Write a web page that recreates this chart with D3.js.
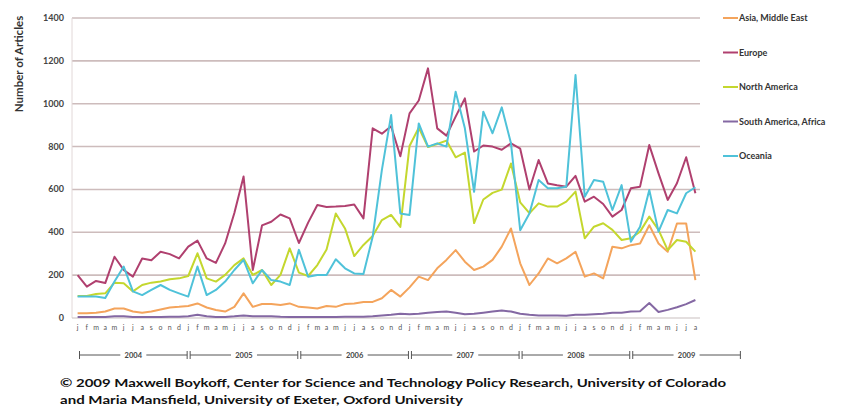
<!DOCTYPE html>
<html>
<head>
<meta charset="utf-8">
<script src="https://cdn.jsdelivr.net/npm/d3@7"></script>
<style>
  body { margin: 0; background: #fff; }
  svg { font-family: Lato, "Open Sans", sans-serif; }
</style>
</head>
<body>
<svg id="chart" width="847" height="409"></svg>
<script>
// month letters per year, Jan 2004 .. Aug 2009
const MONTH_LETTERS = ["j","f","m","a","m","j","j","a","s","o","n","d"];
const YEARS = [2004, 2005, 2006, 2007, 2008, 2009];
const N_MONTHS = 68;
const months = d3.range(N_MONTHS);

const asia = [22,22,25,30,44,44,30,25,30,40, 49,52,56,68,49,37,30,52,115,52,
  65,65,61,68,52,49,44,56,52,65, 68,75,75,92,131,100,143,193,177,232,
  271,317,263,224,240,271,333,418,255,154, 208,278,255,278,309,193,208,185,333,325,
  340,348,433,348,309,441,441,177];
const europe = [200,146,173,163,286,224,193,278,270,309, 298,278,333,361,278,257,348,490,660,224,
  432,449,483,465,350,445,527,518,520,523, 530,465,885,860,895,755,955,1015,1165,885,
  851,940,1025,777,805,800,785,815,790,600, 737,628,620,613,663,543,566,532,473,504,
  605,613,807,675,551,629,750,582];
const northAmerica = [103,103,112,115,165,162,124,154,165,170, 181,185,196,302,185,170,201,247,278,201,
  224,154,201,325,212,196,247,320,488,418, 289,341,383,457,481,425,803,888,798,812,
  828,750,772,443,553,584,599,721,540,489, 535,520,520,543,590,372,426,442,411,364,
  372,403,473,411,317,364,356,310];
const southAmerica = [5,5,5,5,8,8,5,5,5,5, 6,6,8,15,8,5,5,8,12,8,
  8,8,6,5,5,5,5,5,5,6, 6,6,8,12,15,20,18,20,25,28,
  30,25,18,20,25,30,35,30,20,15, 12,12,12,10,15,15,18,20,25,25,
  30,32,70,28,38,50,65,84];
const oceania = [100,100,100,93,170,240,124,107,131,154, 131,115,100,240,107,131,170,224,271,162,
  224,177,170,154,318,193,201,201,274,232, 208,205,379,691,947,488,481,908,800,815,
  800,1056,885,589,963,862,983,815,410,488, 644,605,605,613,1134,566,644,636,504,620,
  356,426,597,403,504,488,582,610];

const Y_TICKS = [0, 200, 400, 600, 800, 1000, 1200, 1400];

const series = [
  { name: "Asia, Middle East", values: asia, color: "#f4a45c" },
  { name: "Europe", values: europe, color: "#b0406f" },
  { name: "North America", values: northAmerica, color: "#c4d72e" },
  { name: "South America, Africa", values: southAmerica, color: "#8468a3" },
  { name: "Oceania", values: oceania, color: "#4fc2d9" },
];

const svg = d3.select("#chart");

// scales
const x = d3.scaleBand().domain(months).range([73, 700]);
const y = d3.scaleLinear().domain([0, 1400]).range([318, 18]);
const cx = (i) => x(i) + x.bandwidth() / 2;

// gridlines
svg.append("g")
  .selectAll("line")
  .data(Y_TICKS.filter((d) => d > 0))
  .enter()
  .append("line")
  .attr("x1", 72).attr("x2", 700)
  .attr("y1", (d) => y(d)).attr("y2", (d) => y(d))
  .attr("stroke", "#cdbcbc")
  .attr("stroke-width", 1.6);

// axis lines
svg.append("line")
  .attr("x1", 72).attr("x2", 72).attr("y1", 18).attr("y2", 318)
  .attr("stroke", "#e2d8d8").attr("stroke-width", 1);
svg.append("line")
  .attr("x1", 72).attr("x2", 700).attr("y1", 318).attr("y2", 318)
  .attr("stroke", "#c9c0c0").attr("stroke-width", 1.2);

// y tick labels
svg.append("g")
  .selectAll("text")
  .data(Y_TICKS)
  .enter()
  .append("text")
  .attr("x", 64)
  .attr("y", (d) => y(d) + 3)
  .attr("text-anchor", "end")
  .attr("font-size", 9)
  .attr("font-weight", "bold")
  .attr("fill", "#444")
  .text((d) => d);

// y title
svg.append("text")
  .attr("transform", "translate(23,64) rotate(-90)")
  .attr("text-anchor", "middle")
  .attr("font-size", 11.5)
  .attr("font-weight", "bold")
  .attr("fill", "#333")
  .text("Number of Articles");

// lines
const line = d3.line()
  .x((d, i) => cx(i))
  .y((d) => y(d));

svg.append("g")
  .selectAll("path")
  .data(series)
  .enter()
  .append("path")
  .attr("d", (s) => line(s.values))
  .attr("fill", "none")
  .attr("stroke", (s) => s.color)
  .attr("stroke-width", 2)
  .attr("stroke-linejoin", "round");

// month letters
svg.append("g")
  .selectAll("text")
  .data(months)
  .enter()
  .append("text")
  .attr("x", (i) => cx(i))
  .attr("y", 330)
  .attr("text-anchor", "middle")
  .attr("font-size", 7)
  .attr("fill", "#555")
  .text((i) => MONTH_LETTERS[i % 12]);

// year bar
const step = x.step();
const yearBarY = 355;
const yg = svg.append("g").attr("stroke", "#555").attr("stroke-width", 1);
YEARS.forEach((yr, k) => {
  const x0 = x(0) + 12 * k * step + 5;
  const x1 = x0 + 12 * step;
  const mid = (x0 + x1) / 2;
  yg.append("line").attr("x1", x0 + 1.5).attr("x2", x0 + 1.5).attr("y1", yearBarY - 4).attr("y2", yearBarY + 4);
  yg.append("line").attr("x1", x1 - 1.5).attr("x2", x1 - 1.5).attr("y1", yearBarY - 4).attr("y2", yearBarY + 4);
  yg.append("line").attr("x1", x0 + 1.5).attr("x2", mid - 13).attr("y1", yearBarY).attr("y2", yearBarY);
  yg.append("line").attr("x1", mid + 13).attr("x2", x1 - 1.5).attr("y1", yearBarY).attr("y2", yearBarY);
  svg.append("text")
    .attr("x", mid).attr("y", yearBarY + 2.5)
    .attr("text-anchor", "middle")
    .attr("font-size", 7.5)
    .attr("font-weight", "bold")
    .attr("fill", "#444")
    .text(yr);
});

// legend
const legend = svg.append("g");
series.forEach((s, k) => {
  const ly = 18 + k * 34.5;
  legend.append("line")
    .attr("x1", 723).attr("x2", 738).attr("y1", ly).attr("y2", ly)
    .attr("stroke", s.color).attr("stroke-width", 2);
  legend.append("text")
    .attr("x", 739).attr("y", ly + 3)
    .attr("font-size", 9)
    .attr("font-weight", "bold")
    .attr("fill", "#333")
    .text(s.name);
});

// footer
svg.append("text")
  .attr("x", 60).attr("y", 387)
  .attr("font-size", 11)
  .attr("font-weight", "bold")
  .attr("fill", "#111")
  .attr("textLength", 666)
  .attr("lengthAdjust", "spacingAndGlyphs")
  .text("\u00a9 2009 Maxwell Boykoff, Center for Science and Technology Policy Research, University of Colorado");
svg.append("text")
  .attr("x", 60).attr("y", 404)
  .attr("font-size", 11)
  .attr("font-weight", "bold")
  .attr("fill", "#111")
  .attr("textLength", 403)
  .attr("lengthAdjust", "spacingAndGlyphs")
  .text("and Maria Mansfield, University of Exeter, Oxford University");
</script>
</body>
</html>
